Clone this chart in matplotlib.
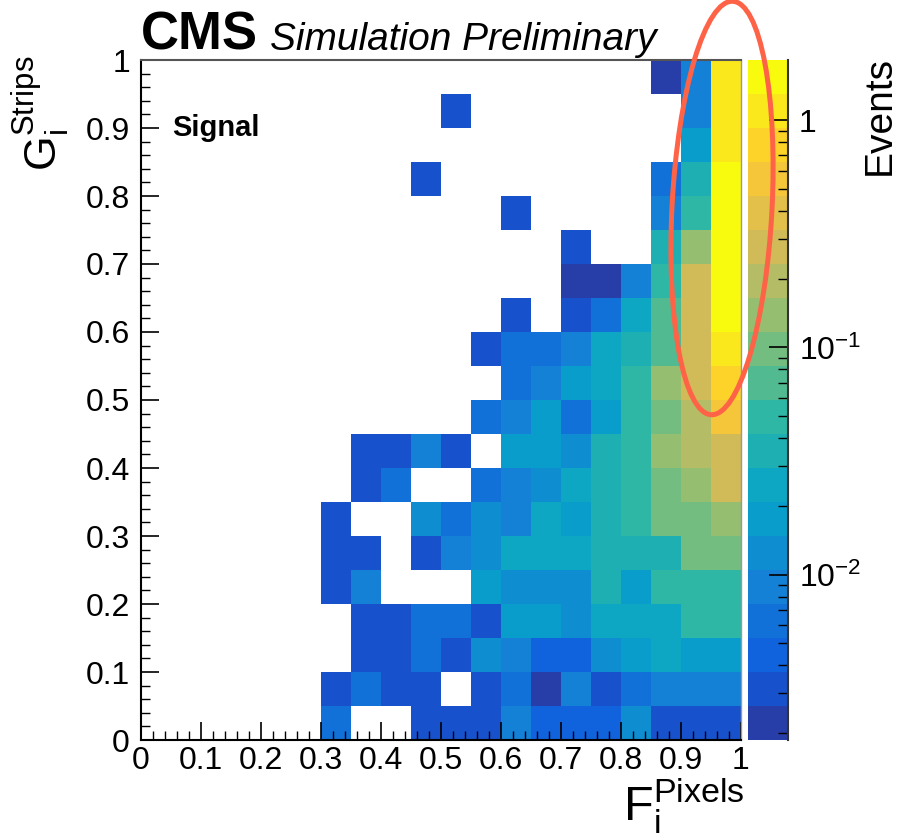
import numpy as np
import matplotlib
matplotlib.use('Agg')
import matplotlib.pyplot as plt
from matplotlib.colors import ListedColormap, BoundaryNorm
from matplotlib.patches import Ellipse
from matplotlib.ticker import MultipleLocator, LogLocator, FuncFormatter, NullFormatter

plt.rcParams['font.family'] = ['Liberation Sans', 'DejaVu Sans']
plt.rcParams['mathtext.fontset'] = 'custom'
plt.rcParams['mathtext.rm'] = 'Liberation Sans'
plt.rcParams['mathtext.it'] = 'Liberation Sans:italic'
plt.rcParams['mathtext.bf'] = 'Liberation Sans:bold'

# bin edges of the 2D histogram (20 x 20 bins)
x_edges = np.linspace(0, 1, 21)
y_edges = np.linspace(0, 1, 21)

# z range of the colour axis (log)
z_min = 0.00187
z_max = 1.84

# bin contents (events), one row per G bin from 0 to 0.95, columns F = 0 ... 0.95
events = [
    [0, 0, 0, 0, 0, 0, 0.0063, 0, 0, 0.0031, 0.0031, 0.0031, 0.0088, 0.0044, 0.0044, 0.0044, 0.0125, 0.0031, 0.0031, 0.0031],
    [0, 0, 0, 0, 0, 0, 0.0031, 0.0063, 0.0031, 0.0031, 0, 0.0031, 0.0063, 0.0022, 0.0088, 0.0031, 0.0063, 0.0088, 0.0088, 0.0088],
    [0, 0, 0, 0, 0, 0, 0, 0.0031, 0.0031, 0.0063, 0.0031, 0.0125, 0.0088, 0.0044, 0.0044, 0.0125, 0.0176, 0.025, 0.0176, 0.0176],
    [0, 0, 0, 0, 0, 0, 0, 0.0031, 0.0031, 0.0063, 0.0063, 0.0031, 0.0176, 0.0176, 0.0125, 0.025, 0.025, 0.025, 0.049, 0.049],
    [0, 0, 0, 0, 0, 0, 0.0031, 0.0088, 0, 0, 0, 0.0176, 0.0125, 0.0125, 0.0125, 0.035, 0.0176, 0.049, 0.049, 0.049],
    [0, 0, 0, 0, 0, 0, 0.0031, 0.0031, 0, 0.0031, 0.0088, 0.0125, 0.025, 0.025, 0.025, 0.035, 0.035, 0.035, 0.099, 0.099],
    [0, 0, 0, 0, 0, 0, 0.0031, 0, 0, 0.0125, 0.0063, 0.0125, 0.0088, 0.025, 0.0176, 0.035, 0.049, 0.099, 0.099, 0.139],
    [0, 0, 0, 0, 0, 0, 0, 0.0031, 0.0063, 0, 0, 0.0063, 0.0088, 0.0125, 0.025, 0.035, 0.049, 0.099, 0.139, 0.28],
    [0, 0, 0, 0, 0, 0, 0, 0.0031, 0.0031, 0.0088, 0.0031, 0, 0.0176, 0.0176, 0.0125, 0.035, 0.049, 0.139, 0.196, 0.28],
    [0, 0, 0, 0, 0, 0, 0, 0, 0, 0, 0, 0.0063, 0.0088, 0.0176, 0.0063, 0.0176, 0.049, 0.099, 0.196, 0.55],
    [0, 0, 0, 0, 0, 0, 0, 0, 0, 0, 0, 0, 0.0063, 0.0088, 0.0176, 0.025, 0.049, 0.139, 0.28, 0.78],
    [0, 0, 0, 0, 0, 0, 0, 0, 0, 0, 0, 0.0031, 0.0063, 0.0063, 0.0088, 0.025, 0.035, 0.070, 0.28, 1.10],
    [0, 0, 0, 0, 0, 0, 0, 0, 0, 0, 0, 0, 0.0031, 0, 0.0031, 0.0063, 0.025, 0.070, 0.28, 1.55],
    [0, 0, 0, 0, 0, 0, 0, 0, 0, 0, 0, 0, 0, 0, 0.0022, 0.0022, 0.0088, 0.049, 0.28, 1.55],
    [0, 0, 0, 0, 0, 0, 0, 0, 0, 0, 0, 0, 0, 0, 0.0031, 0, 0, 0.035, 0.139, 1.55],
    [0, 0, 0, 0, 0, 0, 0, 0, 0, 0, 0, 0, 0.0031, 0, 0, 0, 0, 0.0088, 0.049, 1.55],
    [0, 0, 0, 0, 0, 0, 0, 0, 0, 0.0031, 0, 0, 0, 0, 0, 0, 0, 0.0063, 0.035, 1.55],
    [0, 0, 0, 0, 0, 0, 0, 0, 0, 0, 0, 0, 0, 0, 0, 0, 0, 0, 0.0176, 1.10],
    [0, 0, 0, 0, 0, 0, 0, 0, 0, 0, 0.0031, 0, 0, 0, 0, 0, 0, 0, 0.0088, 1.10],
    [0, 0, 0, 0, 0, 0, 0, 0, 0, 0, 0, 0, 0, 0, 0, 0, 0, 0.0022, 0.0088, 1.10],
]


def bird_palette(n_contours=20, n_colors=255):
    # ROOT kBird palette, picked the way ROOT picks contour colours
    stops = [0.0, 0.125, 0.25, 0.375, 0.5, 0.625, 0.75, 0.875, 1.0]
    red = [0.2082, 0.0592, 0.0780, 0.0232, 0.1802, 0.5301, 0.8186, 0.9956, 0.9764]
    green = [0.1664, 0.3599, 0.5041, 0.6419, 0.7178, 0.7492, 0.7328, 0.7862, 0.9832]
    blue = [0.5293, 0.8684, 0.8385, 0.7914, 0.6425, 0.4662, 0.3499, 0.1968, 0.0539]
    cols = []
    for k in range(n_contours):
        idx = min(int((k + 0.99) * n_colors / n_contours), n_colors - 1)
        f = idx / (n_colors - 1)
        cols.append((np.interp(f, stops, red), np.interp(f, stops, green), np.interp(f, stops, blue)))
    return ListedColormap(cols)


cmap = bird_palette()
levels = np.logspace(np.log10(z_min), np.log10(z_max), 21)
norm = BoundaryNorm(levels, cmap.N)

fig = plt.figure(figsize=(9.1, 8.4), dpi=100)
W, H = 910.0, 840.0
ax = fig.add_axes([141 / W, 1 - 740 / H, 600 / W, 680 / H])
cax = fig.add_axes([748 / W, 1 - 740 / H, 40 / W, 680 / H])

z = np.ma.masked_equal(np.array(events), 0)
ax.pcolormesh(x_edges, y_edges, z, cmap=cmap, norm=norm)
ax.set_xlim(0, 1)
ax.set_ylim(0, 1)

ax.xaxis.set_major_locator(MultipleLocator(0.1))
ax.xaxis.set_minor_locator(MultipleLocator(0.02))
ax.yaxis.set_major_locator(MultipleLocator(0.1))
ax.yaxis.set_minor_locator(MultipleLocator(0.02))
fmt = FuncFormatter(lambda v, p: '0' if abs(v) < 1e-9 else ('1' if abs(v - 1) < 1e-9 else ('%.1f' % v)))
ax.xaxis.set_major_formatter(fmt)
ax.yaxis.set_major_formatter(fmt)
ax.tick_params(which='major', direction='in', length=13, width=1.2, labelsize=23)
ax.tick_params(which='minor', direction='in', length=6.5, width=1.0)
ax.tick_params(axis='x', which='major', pad=4)
ax.tick_params(axis='y', which='major', pad=8)
for s in ['left', 'bottom']:
    ax.spines[s].set_linewidth(1.5)
ax.spines['top'].set_color('#555555')
ax.spines['top'].set_linewidth(1.5)
ax.spines['right'].set_color('#999999')
ax.spines['right'].set_linewidth(1.0)

# colour axis
band_vals = np.sqrt(levels[:-1] * levels[1:]).reshape(-1, 1)
cax.pcolormesh([0, 1], levels, band_vals, cmap=cmap, norm=norm)
cax.set_yscale('log')
cax.set_ylim(z_min, z_max)
cax.set_xlim(0, 1)
cax.set_xticks([])
cax.yaxis.tick_right()
cax.yaxis.set_major_locator(LogLocator(base=10, numticks=10))
cax.yaxis.set_minor_locator(LogLocator(base=10, subs=np.arange(2, 10), numticks=20))
cb_labels = {0: '1', -1: r'$10^{-1}$', -2: r'$10^{-2}$'}
cax.yaxis.set_major_formatter(FuncFormatter(lambda v, p: cb_labels.get(int(round(np.log10(v))), '')))
cax.yaxis.set_minor_formatter(NullFormatter())
cax.tick_params(which='major', direction='in', length=14, width=1.2, labelsize=23, pad=8)
cax.tick_params(which='minor', direction='in', length=7, width=1.0)
for s in ['left', 'top', 'bottom']:
    cax.spines[s].set_visible(False)
cax.spines['right'].set_color('#333333')
cax.spines['right'].set_linewidth(1.5)

# titles and labels
fig.text(141 / W, 1 - 50 / H, 'CMS', fontsize=38, fontweight='bold', va='baseline', ha='left')
fig.text(270 / W, 1 - 50 / H, 'Simulation Preliminary', fontsize=28, fontstyle='italic', va='baseline', ha='left')
fig.text(172 / W, 1 - 128 / H, 'Signal', fontsize=21, fontweight='bold', va='center', ha='left')
fig.text(880 / W, 1 - 56 / H, 'Events', fontsize=28, rotation=90, va='top', ha='center')
fig.text(40 / W, 1 - 56 / H, r'$\mathrm{G}_{\mathrm{i}}^{\mathrm{Strips}}$', fontsize=32, rotation=90, va='top', ha='center')
fig.text(745 / W, 1 - 836 / H, r'$\mathrm{F}_{\mathrm{i}}^{\mathrm{Pixels}}$', fontsize=35, va='bottom', ha='right')

# hand-drawn highlight around the high-F column
ell = Ellipse((7.22, 6.32), 1.0, 4.14, angle=-3, fill=False, edgecolor='#FF6347', linewidth=3.6,
              transform=fig.dpi_scale_trans, clip_on=False)
fig.add_artist(ell)

fig.savefig('out.png', dpi=100)
